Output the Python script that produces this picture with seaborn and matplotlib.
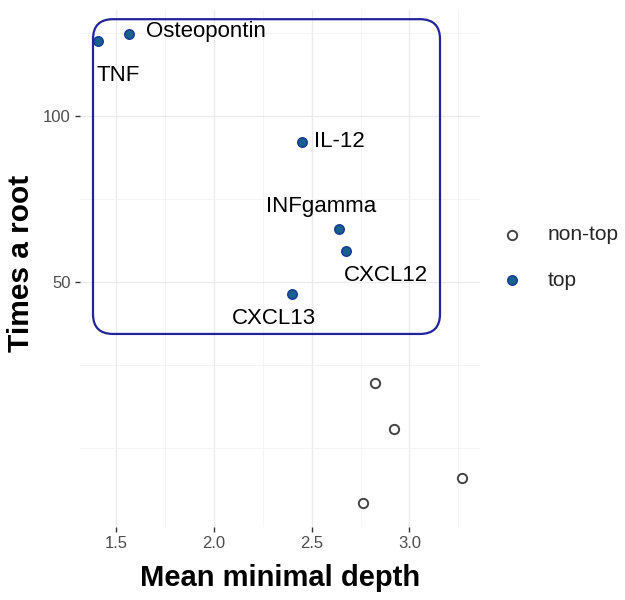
import matplotlib.pyplot as plt
import matplotlib.ticker as mticker
from matplotlib.patches import FancyBboxPatch
import numpy as np
import pandas as pd
import seaborn as sns

# Datos
top_names = ['Osteopontin', 'TNF', 'IL-12', 'INFgamma', 'CXCL12', 'CXCL13']
top_depth = [1.567, 1.407, 2.448, 2.639, 2.675, 2.397]
top_root = [131, 128, 91, 64, 58, 47]

other_depth = [2.825, 2.923, 3.268, 2.763]
other_root = [28, 20, 13, 10]

x_ticks = [1.5, 2.0, 2.5, 3.0]
y_ticks = [50, 100]

df_top = pd.DataFrame({'depth': top_depth, 'root': top_root, 'name': top_names})
df_other = pd.DataFrame({'depth': other_depth, 'root': other_root})

# Posición de las etiquetas (desplazamiento en píxeles, alineación)
label_offsets = {
    'Osteopontin': (17, 2, 'left'),
    'TNF': (-2, -34, 'left'),
    'IL-12': (12, 0, 'left'),
    'INFgamma': (-18, 23, 'center'),
    'CXCL12': (40, -25, 'center'),
    'CXCL13': (-18, -25, 'center'),
}

sns.set_style('whitegrid')
plt.rcParams['font.family'] = ['Liberation Sans', 'DejaVu Sans']

fig = plt.figure(figsize=(6.25, 6), dpi=100)
ax = fig.add_axes([0.128, 0.122, 0.64, 0.861])


def sqrt_f(v):
    return np.sqrt(np.clip(v, 0, None))


def square_f(v):
    return np.square(v)


ax.set_yscale('function', functions=(sqrt_f, square_f))

sns.scatterplot(data=df_other, x='depth', y='root', ax=ax, s=45,
                color='white', edgecolor='#444444', linewidth=1.4,
                label='non-top', zorder=3)
sns.scatterplot(data=df_top, x='depth', y='root', ax=ax, s=45,
                color='#17608f', edgecolor='#1b3f94', linewidth=1.2,
                label='top', zorder=3)

for _, row in df_top.iterrows():
    dx, dy, ha = label_offsets[row['name']]
    ax.annotate(row['name'], (row['depth'], row['root']),
                xytext=(dx, dy), textcoords='offset pixels',
                ha=ha, va='center', fontsize=16, color='black')

# Límites con expansión del 5% (estilo ggplot)
all_x = np.array(top_depth + other_depth)
all_y = np.sqrt(np.array(top_root + other_root, dtype=float))
xr = all_x.max() - all_x.min()
yr = all_y.max() - all_y.min()
ax.set_xlim(all_x.min() - 0.05 * xr, all_x.max() + 0.05 * xr)
ax.set_ylim((all_y.min() - 0.05 * yr) ** 2, (all_y.max() + 0.05 * yr) ** 2)

# Ticks mayores y menores
ax.xaxis.set_major_locator(mticker.FixedLocator(x_ticks))
ax.xaxis.set_major_formatter(mticker.FormatStrFormatter('%.1f'))
x_step = x_ticks[1] - x_ticks[0]
x_minor = np.arange(x_ticks[0] - x_step / 2, x_ticks[-1] + x_step, x_step)
ax.xaxis.set_minor_locator(mticker.FixedLocator(x_minor))

ax.yaxis.set_major_locator(mticker.FixedLocator(y_ticks))
ax.yaxis.set_major_formatter(mticker.FormatStrFormatter('%d'))
sq = np.sqrt(y_ticks)
sq_step = sq[1] - sq[0]
sq_ext = np.array([sq[0] - sq_step, sq[0], sq[1], sq[1] + sq_step])
y_minor = np.concatenate([[sq_ext[0]], (sq_ext[:-1] + sq_ext[1:]) / 2]) ** 2
ax.yaxis.set_minor_locator(mticker.FixedLocator(y_minor))

ax.grid(which='major', color='#ebebeb', linewidth=1.0)
ax.grid(which='minor', color='#f2f2f2', linewidth=0.6)
ax.set_axisbelow(True)

for sp in ax.spines.values():
    sp.set_visible(False)

ax.tick_params(which='major', length=3.5, width=1.0, color='#333333',
               labelsize=12, labelcolor='#4d4d4d', pad=3)
ax.tick_params(which='minor', length=0)
ax.tick_params(axis='x', bottom=True)
ax.tick_params(axis='y', left=True)

ax.set_xlabel('Mean minimal depth', fontsize=21, fontweight='bold', color='black')
ax.set_ylabel('Times a root', fontsize=21.5, fontweight='bold', color='black')
ax.xaxis.set_label_coords(0.5, -0.072)
ax.yaxis.set_label_coords(-0.113, 0.51)

# Recuadro redondeado alrededor de las variables principales
box = FancyBboxPatch((0.0325, 0.3733), 0.8675, 0.6093,
                     boxstyle='round,pad=0,rounding_size=0.05',
                     mutation_aspect=400 / 517, transform=ax.transAxes,
                     fill=False, edgecolor='#23239b', linewidth=1.6,
                     clip_on=False, zorder=4)
ax.add_patch(box)

ax.legend(loc='upper left', bbox_to_anchor=(0.8026, 0.625),
          bbox_transform=fig.transFigure, frameon=False, fontsize=15,
          handlelength=1.0, handletextpad=1.2, labelspacing=1.28,
          borderpad=0, borderaxespad=0)

fig.savefig('out.png', dpi=100)
